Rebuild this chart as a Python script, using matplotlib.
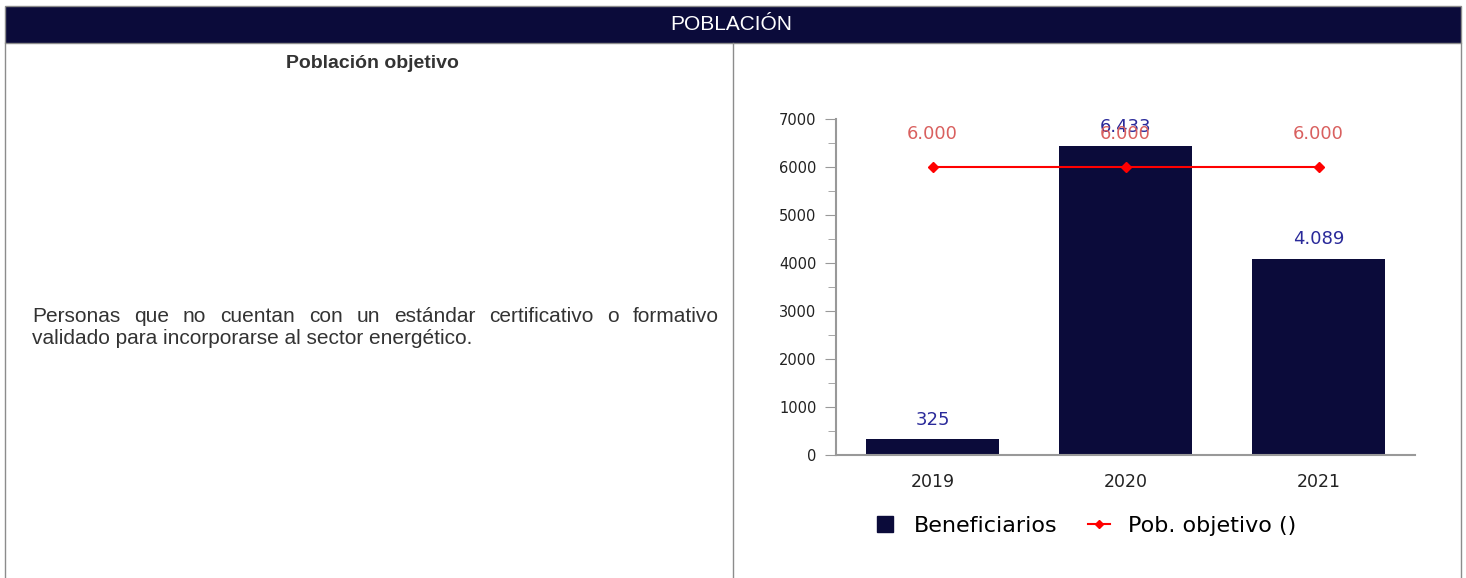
import matplotlib
matplotlib.use("Agg")
import matplotlib.pyplot as plt
from matplotlib.patches import Rectangle
from matplotlib.lines import Line2D

W, H = 1466, 578

# data
years = ["2019", "2020", "2021"]
beneficiarios = [325, 6433, 4089]
pob_objetivo = [6000, 6000, 6000]
benef_labels = ["325", "6.433", "4.089"]
obj_labels = ["6.000", "6.000", "6.000"]

header = "POBLACIÓN"
col_title = "Población objetivo"
para_lines = ["Personas que no cuentan con un estándar certificativo o formativo",
              "validado para incorporarse al sector energético."]

navy = "#0b0b3a"
border = "#8c8c8c"

fig = plt.figure(figsize=(W / 100, H / 100), dpi=100)


def fx(x):
    return x / W


def fy(y):
    return 1 - y / H


# table frame
band_top, band_bot = 6, 43
fig.patches.append(Rectangle((fx(5), fy(band_bot)), fx(1461) - fx(5), fy(band_top) - fy(band_bot),
                             transform=fig.transFigure, facecolor=navy,
                             edgecolor=border, lw=1))
for x in (5, 733, 1461):
    fig.add_artist(Line2D([fx(x), fx(x)], [fy(band_bot), fy(578)], color=border, lw=1))

fig.text(fx(731), fy(25), header, color="white", ha="center", va="center",
         fontsize=15, family="Liberation Sans")
fig.text(fx(372), fy(63), col_title, color="#333333", ha="center", va="center",
         fontsize=14, family="Liberation Sans", weight="bold")

# justified paragraph
para_font = dict(fontsize=15, family="Liberation Sans", color="#333333")
fig.canvas.draw()
r = fig.canvas.get_renderer()
left, right = 32, 719
for i, line in enumerate(para_lines):
    y = fy(316 + i * 23)
    words = line.split(" ")
    if i == len(para_lines) - 1:
        fig.text(fx(left), y, line, ha="left", va="center", **para_font)
        continue
    widths = []
    for w in words:
        t = fig.text(0, 0, w, **para_font)
        widths.append(t.get_window_extent(r).width)
        t.remove()
    gap = (right - left - sum(widths)) / (len(words) - 1)
    x = left
    for w, wd in zip(words, widths):
        fig.text(fx(x), y, w, ha="left", va="center", **para_font)
        x += wd + gap

# chart
ax = fig.add_axes([fx(836), fy(455), fx(1415) - fx(836), fy(119) - fy(455)])
xs = range(len(years))
ax.bar(xs, beneficiarios, width=0.69, color=navy, label="Beneficiarios", zorder=2)
ax.plot(xs, pob_objetivo, color="#ff0000", lw=1.5, marker="D", ms=5,
        label="Pob. objetivo ()", zorder=3)
for x, v, s in zip(xs, beneficiarios, benef_labels):
    ax.annotate(s, (x, v), xytext=(0, 14), textcoords="offset points",
                ha="center", va="center", color="#2a2a9a", fontsize=13)
for x, v, s in zip(xs, pob_objetivo, obj_labels):
    ax.annotate(s, (x, v), xytext=(0, 24), textcoords="offset points",
                ha="center", va="center", color="#d9605f", fontsize=13)

ax.set_xlim(-0.5, 2.5)
ax.set_ylim(0, 7000)
ax.set_yticks(range(0, 7001, 1000))
ax.set_yticks(range(500, 7000, 1000), minor=True)
ax.set_xticks(list(xs))
ax.set_xticklabels(years)
for s in ("top", "right"):
    ax.spines[s].set_visible(False)
for s in ("left", "bottom"):
    ax.spines[s].set_color("#999999")
    ax.spines[s].set_linewidth(1.5)
ax.tick_params(axis="y", which="major", length=8, color="#999999", labelsize=10.5,
               labelcolor="#222222", pad=6)
ax.tick_params(axis="y", which="minor", length=5.5, color="#999999")
ax.tick_params(axis="x", length=0, labelsize=12.5, labelcolor="#222222", pad=13)

handles = [Line2D([], [], marker="s", ls="none", color=navy, ms=11),
           Line2D([], [], color="#ff0000", lw=1.5, marker="D", ms=4)]
fig.legend(handles, ["Beneficiarios", "Pob. objetivo ()"], loc="center",
           bbox_to_anchor=(fx(1085), fy(526)), ncol=2, frameon=False,
           fontsize=16, handlelength=1.0, handletextpad=0.8, columnspacing=1.4)

fig.savefig("out.png", dpi=100)
